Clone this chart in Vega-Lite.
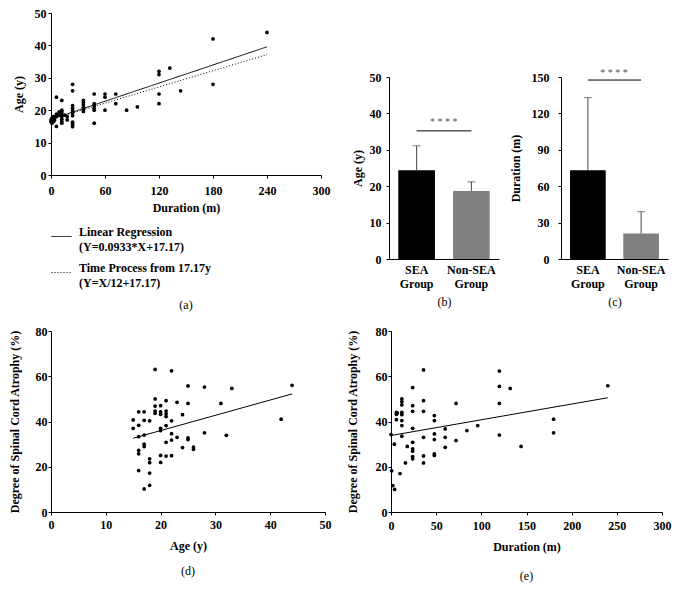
{
"$schema": "https://vega.github.io/schema/vega-lite/v6.json",
"padding": {"left": 8, "top": 7, "right": 5, "bottom": 5},
"config": {
  "font": "Liberation Serif",
  "view": {"stroke": null},
  "axis": {"labelFont": "Liberation Serif", "labelFontWeight": "bold", "labelFontSize": 12, "labelColor": "black",
           "titleFont": "Liberation Serif", "titleFontWeight": "bold", "titleFontSize": 12, "titleColor": "black",
           "domainColor": "black", "tickColor": "black", "tickSize": 3, "grid": false, "labelPadding": 2, "labelOverlap": false},
  "axisX": {"labelFlush": false},
  "title": {"font": "Liberation Serif", "fontWeight": "normal", "fontSize": 12, "color": "black"}
},
"datasets": {
  "a_pts": [
    {"dur":240,"age":44},{"dur":180,"age":42},{"dur":180,"age":28},{"dur":132,"age":33},{"dur":144,"age":26},
    {"dur":120,"age":32},{"dur":120,"age":31},{"dur":120,"age":25},{"dur":120,"age":22},{"dur":96,"age":21},
    {"dur":84,"age":20},{"dur":72,"age":25},{"dur":72,"age":22},{"dur":60,"age":25},{"dur":60,"age":24},
    {"dur":60,"age":20},{"dur":48,"age":25},{"dur":48,"age":22},{"dur":48,"age":21.4},{"dur":48,"age":20.6},
    {"dur":48,"age":20},{"dur":48,"age":16},{"dur":36,"age":23},{"dur":36,"age":22.4},{"dur":36,"age":21.6},
    {"dur":36,"age":20.9},{"dur":36,"age":20.3},{"dur":36,"age":19.6},{"dur":24,"age":28},{"dur":24,"age":26},
    {"dur":24,"age":21.4},{"dur":24,"age":20.6},{"dur":24,"age":19.9},{"dur":24,"age":19.2},{"dur":24,"age":18.3},
    {"dur":24,"age":16.3},{"dur":24,"age":15.6},{"dur":24,"age":14.9},{"dur":12,"age":23},{"dur":12,"age":20},
    {"dur":12,"age":19.5},{"dur":12,"age":18.8},{"dur":12,"age":18},{"dur":12,"age":17.2},{"dur":12,"age":16.5},
    {"dur":12,"age":16},{"dur":6,"age":24},{"dur":6,"age":18.8},{"dur":6,"age":18},{"dur":6,"age":15},
    {"dur":18,"age":18},{"dur":18,"age":17},{"dur":15,"age":18.5},{"dur":3,"age":18},{"dur":2,"age":17},
    {"dur":1,"age":16},{"dur":0,"age":17},{"dur":0,"age":16.5},{"dur":4,"age":17},{"dur":9,"age":18.5},
    {"dur":9,"age":19.5},{"dur":3,"age":16.5},{"dur":1,"age":17.5},{"dur":2,"age":18}
  ],
  "a_lines": [
    {"series":"Linear Regression|(Y=0.0933*X+17.17)","dur":0,"age":17.17},
    {"series":"Linear Regression|(Y=0.0933*X+17.17)","dur":240,"age":39.56},
    {"series":"Time Process from 17.17y|(Y=X/12+17.17)","dur":0,"age":17.17},
    {"series":"Time Process from 17.17y|(Y=X/12+17.17)","dur":240,"age":37.17}
  ],
  "b": [{"group":"SEA Group","mean":24.4,"upper":31.1},{"group":"Non-SEA Group","mean":18.7,"upper":21.2}],
  "b_sig": [{"group":"SEA Group","level":35.2},{"group":"Non-SEA Group","level":35.2}],
  "b_star": [{"group":"SEA Group","level":37.6,"stars":"* * * *"}],
  "c": [{"group":"SEA Group","mean":73.2,"upper":133},{"group":"Non-SEA Group","mean":21,"upper":39}],
  "c_sig": [{"group":"SEA Group","level":147.5},{"group":"Non-SEA Group","level":147.5}],
  "c_star": [{"group":"SEA Group","level":153.3,"stars":"* * * *"}],
  "d_pts": [
    {"age":15,"atr":40.7},{"age":15,"atr":37},{"age":16,"atr":44.3},{"age":16,"atr":38.3},{"age":16,"atr":33.3},
    {"age":16,"atr":27.2},{"age":16,"atr":25.7},{"age":16,"atr":18.3},{"age":17,"atr":44.3},{"age":17,"atr":40.5},
    {"age":17,"atr":34},{"age":17,"atr":30},{"age":17,"atr":28.9},{"age":17,"atr":10.2},{"age":18,"atr":40.3},
    {"age":18,"atr":23.5},{"age":18,"atr":21.8},{"age":18,"atr":17.2},{"age":18,"atr":11.8},{"age":19,"atr":63},
    {"age":19,"atr":50},{"age":19,"atr":46.8},{"age":19,"atr":44.6},{"age":19,"atr":43.6},{"age":20,"atr":47},
    {"age":20,"atr":44.3},{"age":20,"atr":43.2},{"age":20,"atr":37},{"age":20,"atr":36},{"age":20,"atr":25},
    {"age":20,"atr":21.9},{"age":21,"atr":49.2},{"age":21,"atr":44.6},{"age":21,"atr":43.4},{"age":21,"atr":42.2},
    {"age":21,"atr":38.2},{"age":21,"atr":30.8},{"age":21,"atr":24.7},{"age":22,"atr":62.4},{"age":22,"atr":40.3},
    {"age":22,"atr":34.6},{"age":22,"atr":31.8},{"age":22,"atr":24.9},{"age":23,"atr":48.5},{"age":23,"atr":33},
    {"age":24,"atr":43},{"age":24,"atr":28.5},{"age":25,"atr":55.7},{"age":25,"atr":48},{"age":25,"atr":32.8},
    {"age":25,"atr":32},{"age":26,"atr":28.7},{"age":26,"atr":27.7},{"age":28,"atr":55.2},{"age":28,"atr":35},
    {"age":31,"atr":48},{"age":32,"atr":33.9},{"age":33,"atr":54.6},{"age":42,"atr":41},{"age":44,"atr":56}
  ],
  "d_fit": [{"age":15,"atr":32.6},{"age":44,"atr":52.2}],
  "e_pts": [
    {"dur":0,"atr":34.2},{"dur":0.7,"atr":18.2},{"dur":2,"atr":11.7},{"dur":4,"atr":10},{"dur":3.7,"atr":30},
    {"dur":6,"atr":40.8},{"dur":6,"atr":44},{"dur":6,"atr":43.2},{"dur":7,"atr":43.8},{"dur":10,"atr":17},
    {"dur":12,"atr":50},{"dur":12,"atr":48.7},{"dur":12,"atr":47.3},{"dur":12,"atr":44},{"dur":12,"atr":43},
    {"dur":12,"atr":40.4},{"dur":12,"atr":38.2},{"dur":12,"atr":33.5},{"dur":16,"atr":21.7},{"dur":18,"atr":29},
    {"dur":24,"atr":55},{"dur":24,"atr":47},{"dur":24,"atr":44.5},{"dur":24,"atr":37},{"dur":24,"atr":30.8},
    {"dur":24,"atr":27.9},{"dur":24,"atr":26.9},{"dur":24,"atr":24.5},{"dur":24,"atr":23.5},{"dur":36,"atr":62.8},
    {"dur":36,"atr":49.2},{"dur":36,"atr":44.5},{"dur":36,"atr":33},{"dur":36,"atr":24.8},{"dur":36,"atr":21.7},
    {"dur":48,"atr":42.6},{"dur":48,"atr":40.4},{"dur":48,"atr":34.5},{"dur":48,"atr":32},{"dur":48,"atr":25.7},
    {"dur":48,"atr":25},{"dur":60,"atr":36.7},{"dur":60,"atr":33},{"dur":60,"atr":28.6},{"dur":72,"atr":48},
    {"dur":72,"atr":31.6},{"dur":84,"atr":36},{"dur":96,"atr":38.2},{"dur":120,"atr":62.3},{"dur":120,"atr":55.5},
    {"dur":120,"atr":48},{"dur":120,"atr":34},{"dur":132,"atr":54.6},{"dur":144,"atr":29},{"dur":180,"atr":41},
    {"dur":180,"atr":35},{"dur":240,"atr":55.8}
  ],
  "e_fit": [{"dur":0,"atr":33.8},{"dur":240,"atr":50.5}]
},
"spacing": 14,
"resolve": {"legend": {"strokeDash": "independent"}},
"vconcat": [
  {
    "spacing": 21,
    "resolve": {"legend": {"strokeDash": "independent"}},
    "hconcat": [
      {
        "width": 270, "height": 162,
        "title": {"text": "(a)", "orient": "bottom", "offset": 11},
        "layer": [
          {
            "data": {"name": "a_pts"},
            "mark": {"type": "circle", "size": 14, "color": "black", "opacity": 1},
            "encoding": {
              "x": {"field": "dur", "type": "quantitative", "scale": {"domain": [0, 300]},
                    "axis": {"values": [0, 60, 120, 180, 240, 300], "title": "Duration (m)", "labelPadding": 7, "titlePadding": 6, "labelFlush": false}},
              "y": {"field": "age", "type": "quantitative", "scale": {"domain": [0, 50]},
                    "axis": {"values": [0, 10, 20, 30, 40, 50], "tickCount": 6, "labelOverlap": false, "title": "Age (y)", "labelPadding": 2, "titlePadding": 9}}
            }
          },
          {
            "data": {"name": "a_lines"},
            "mark": {"type": "line", "color": "black", "strokeWidth": 1},
            "encoding": {
              "x": {"field": "dur", "type": "quantitative", "scale": {"domain": [0, 300]}},
              "y": {"field": "age", "type": "quantitative", "scale": {"domain": [0, 50]}},
              "strokeDash": {"field": "series", "type": "nominal",
                "scale": {"domain": ["Linear Regression|(Y=0.0933*X+17.17)", "Time Process from 17.17y|(Y=X/12+17.17)"], "range": [[1, 0], [1, 2]]},
                "legend": {"orient": "bottom", "direction": "vertical", "title": null, "symbolType": "stroke", "symbolSize": 400,
                  "symbolStrokeWidth": 1, "symbolStrokeColor": "black", "labelFont": "Liberation Serif", "labelFontWeight": "bold",
                  "labelFontSize": 12, "labelColor": "black", "labelExpr": "split(datum.label, '|')", "labelLimit": 400,
                  "labelOffset": 7, "rowPadding": 8, "offset": 13, "padding": 0,
                  "encode": {"labels": {"update": {"lineHeight": {"value": 15}, "dy": {"value": -5}}}}}
              }
            }
          }
        ]
      },
      {
        "spacing": 5,
        "vconcat": [
          {
            "width": 100, "height": 48,
            "view": {"stroke": "transparent"},
            "data": {"values": []},
            "mark": "point"
          },
          {
            "spacing": 10,
            "hconcat": [
              {
                "width": 110, "height": 182,
                "layer": [
                  {
                    "data": {"name": "b"},
                    "mark": {"type": "bar"},
                    "encoding": {
                      "x": {"field": "group", "type": "nominal", "sort": ["SEA Group", "Non-SEA Group"], "scale": {"paddingInner": 0.33, "paddingOuter": 0.17},
                            "axis": {"labelAngle": 0, "labelExpr": "split(datum.label, ' ')", "ticks": false, "labelPadding": 5, "labelLineHeight": 14,
                                     "title": "(b)", "titleFontWeight": "normal", "titlePadding": 7}},
                      "y": {"field": "mean", "type": "quantitative", "scale": {"domain": [0, 50]},
                            "axis": {"values": [0, 10, 20, 30, 40, 50], "tickCount": 6, "labelOverlap": false, "title": "Age (y)", "labelPadding": 5, "titlePadding": 5}},
                      "color": {"field": "group", "type": "nominal", "scale": {"domain": ["SEA Group", "Non-SEA Group"], "range": ["#000000", "#808080"]}, "legend": null}
                    }
                  },
                  {
                    "data": {"name": "b"},
                    "mark": {"type": "rule", "color": "#444444"},
                    "encoding": {
                      "x": {"field": "group", "type": "nominal", "sort": ["SEA Group", "Non-SEA Group"]},
                      "y": {"field": "mean", "type": "quantitative", "scale": {"domain": [0, 50]}},
                      "y2": {"field": "upper"}
                    }
                  },
                  {
                    "data": {"name": "b"},
                    "mark": {"type": "tick", "size": 8, "thickness": 1, "color": "#444444"},
                    "encoding": {
                      "x": {"field": "group", "type": "nominal", "sort": ["SEA Group", "Non-SEA Group"]},
                      "y": {"field": "upper", "type": "quantitative", "scale": {"domain": [0, 50]}}
                    }
                  },
                  {
                    "data": {"name": "b_sig"},
                    "mark": {"type": "line", "color": "black", "strokeWidth": 1},
                    "encoding": {
                      "x": {"field": "group", "type": "nominal", "sort": ["SEA Group", "Non-SEA Group"]},
                      "y": {"field": "level", "type": "quantitative", "scale": {"domain": [0, 50]}}
                    }
                  },
                  {
                    "data": {"name": "b_star"},
                    "mark": {"type": "text", "dx": 27, "font": "Liberation Serif", "fontSize": 10, "color": "#555555", "baseline": "middle"},
                    "encoding": {
                      "x": {"field": "group", "type": "nominal", "sort": ["SEA Group", "Non-SEA Group"]},
                      "y": {"field": "level", "type": "quantitative", "scale": {"domain": [0, 50]}},
                      "text": {"field": "stars"}
                    }
                  }
                ]
              },
              {
                "width": 107, "height": 182,
                "layer": [
                  {
                    "data": {"name": "c"},
                    "mark": {"type": "bar"},
                    "encoding": {
                      "x": {"field": "group", "type": "nominal", "sort": ["SEA Group", "Non-SEA Group"], "scale": {"paddingInner": 0.33, "paddingOuter": 0.17},
                            "axis": {"labelAngle": 0, "labelExpr": "split(datum.label, ' ')", "ticks": false, "labelPadding": 5, "labelLineHeight": 14,
                                     "title": "(c)", "titleFontWeight": "normal", "titlePadding": 7}},
                      "y": {"field": "mean", "type": "quantitative", "scale": {"domain": [0, 150]},
                            "axis": {"values": [0, 30, 60, 90, 120, 150], "tickCount": 6, "labelOverlap": false, "title": "Duration (m)", "labelPadding": 9, "titlePadding": 9}},
                      "color": {"field": "group", "type": "nominal", "scale": {"domain": ["SEA Group", "Non-SEA Group"], "range": ["#000000", "#808080"]}, "legend": null}
                    }
                  },
                  {
                    "data": {"name": "c"},
                    "mark": {"type": "rule", "color": "#444444"},
                    "encoding": {
                      "x": {"field": "group", "type": "nominal", "sort": ["SEA Group", "Non-SEA Group"]},
                      "y": {"field": "mean", "type": "quantitative", "scale": {"domain": [0, 150]}},
                      "y2": {"field": "upper"}
                    }
                  },
                  {
                    "data": {"name": "c"},
                    "mark": {"type": "tick", "size": 8, "thickness": 1, "color": "#444444"},
                    "encoding": {
                      "x": {"field": "group", "type": "nominal", "sort": ["SEA Group", "Non-SEA Group"]},
                      "y": {"field": "upper", "type": "quantitative", "scale": {"domain": [0, 150]}}
                    }
                  },
                  {
                    "data": {"name": "c_sig"},
                    "mark": {"type": "line", "color": "black", "strokeWidth": 1},
                    "encoding": {
                      "x": {"field": "group", "type": "nominal", "sort": ["SEA Group", "Non-SEA Group"]},
                      "y": {"field": "level", "type": "quantitative", "scale": {"domain": [0, 150]}}
                    }
                  },
                  {
                    "data": {"name": "c_star"},
                    "mark": {"type": "text", "dx": 26, "font": "Liberation Serif", "fontSize": 10, "color": "#555555", "baseline": "middle"},
                    "encoding": {
                      "x": {"field": "group", "type": "nominal", "sort": ["SEA Group", "Non-SEA Group"]},
                      "y": {"field": "level", "type": "quantitative", "scale": {"domain": [0, 150]}},
                      "text": {"field": "stars"}
                    }
                  }
                ]
              }
            ]
          }
        ]
      }
    ]
  },
  {
    "spacing": 15,
    "hconcat": [
      {
        "width": 274, "height": 181,
        "title": {"text": "(d)", "orient": "bottom", "offset": 15},
        "layer": [
          {
            "data": {"name": "d_pts"},
            "mark": {"type": "circle", "size": 14, "color": "black", "opacity": 1},
            "encoding": {
              "x": {"field": "age", "type": "quantitative", "scale": {"domain": [0, 50]},
                    "axis": {"values": [0, 10, 20, 30, 40, 50], "title": "Age (y)", "labelPadding": 4, "titlePadding": 10, "labelFlush": false}},
              "y": {"field": "atr", "type": "quantitative", "scale": {"domain": [0, 80]},
                    "axis": {"values": [0, 20, 40, 60, 80], "labelOverlap": false, "title": "Degree of Spinal Cord Atrophy (%)", "labelPadding": 1, "titlePadding": 14}}
            }
          },
          {
            "data": {"name": "d_fit"},
            "mark": {"type": "line", "color": "black", "strokeWidth": 1},
            "encoding": {
              "x": {"field": "age", "type": "quantitative", "scale": {"domain": [0, 50]}},
              "y": {"field": "atr", "type": "quantitative", "scale": {"domain": [0, 80]}}
            }
          }
        ]
      },
      {
        "width": 271, "height": 181,
        "title": {"text": "(e)", "orient": "bottom", "offset": 19},
        "layer": [
          {
            "data": {"name": "e_pts"},
            "mark": {"type": "circle", "size": 14, "color": "black", "opacity": 1},
            "encoding": {
              "x": {"field": "dur", "type": "quantitative", "scale": {"domain": [0, 300]},
                    "axis": {"values": [0, 50, 100, 150, 200, 250, 300], "title": "Duration (m)", "labelPadding": 5, "titlePadding": 10, "labelFlush": false}},
              "y": {"field": "atr", "type": "quantitative", "scale": {"domain": [0, 80]},
                    "axis": {"values": [0, 20, 40, 60, 80], "labelOverlap": false, "title": "Degree of Spinal Cord Atrophy (%)", "labelPadding": 1, "titlePadding": 16}}
            }
          },
          {
            "data": {"name": "e_fit"},
            "mark": {"type": "line", "color": "black", "strokeWidth": 1},
            "encoding": {
              "x": {"field": "dur", "type": "quantitative", "scale": {"domain": [0, 300]}},
              "y": {"field": "atr", "type": "quantitative", "scale": {"domain": [0, 80]}}
            }
          }
        ]
      }
    ]
  }
]
}
